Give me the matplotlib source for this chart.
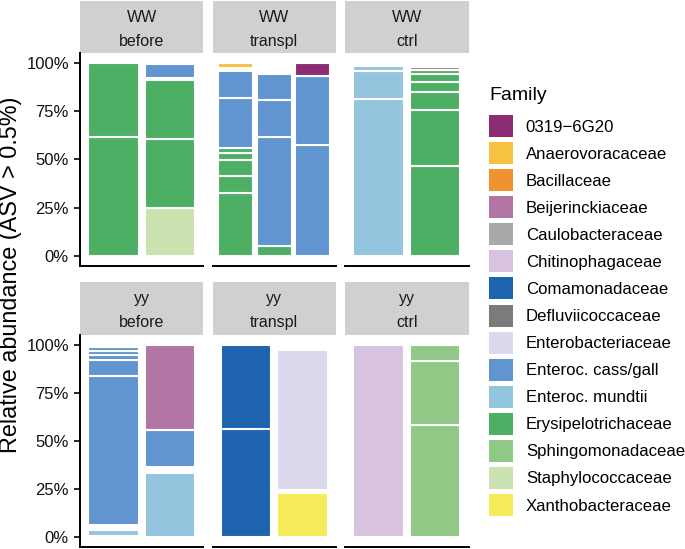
import numpy as np
import matplotlib.pyplot as plt
from matplotlib.patches import Patch

plt.rcParams['font.family'] = ['Liberation Sans', 'DejaVu Sans']

W, H = 685, 549

families = ['0319\u22126G20', 'Anaerovoracaceae', 'Bacillaceae', 'Beijerinckiaceae',
            'Caulobacteraceae', 'Chitinophagaceae', 'Comamonadaceae', 'Defluviicoccaceae',
            'Enterobacteriaceae', 'Enteroc. cass/gall', 'Enteroc. mundtii',
            'Erysipelotrichaceae', 'Sphingomonadaceae', 'Staphylococcaceae', 'Xanthobacteraceae']
colors = ['#8C2D73', '#F5C242', '#F0922F', '#B176A4', '#A9A9A9', '#D7C2DF', '#1D63AD',
          '#7B7B7B', '#DCD8ED', '#6195CF', '#93C5DF', '#4DAF64', '#91C886', '#CCE2B1', '#F6EB59']

X0319, ANAERO, BEIJ, CHITINO, COMA = families[0], families[1], families[3], families[5], families[6]
ENTERO, CASS, MUND, ERY, SPHINGO = families[8], families[9], families[10], families[11], families[12]
STAPH, XANTHO = families[13], families[14]

# stacks from bottom to top, None = small ASVs drawn blank
ww_before_a_fam = [ERY, ERY]
ww_before_a_pct = [61.7, 38.0]
ww_before_b_fam = [STAPH, ERY, ERY, None, CASS]
ww_before_b_pct = [25.1, 35.5, 30.5, 0.8, 7.6]

ww_transpl_a_fam = [ERY, ERY, ERY, ERY, ERY, CASS, CASS, None, ANAERO]
ww_transpl_a_pct = [32.9, 8.5, 8.3, 3.4, 2.8, 25.8, 14.0, 1.5, 2.4]
ww_transpl_b_fam = [ERY, CASS, CASS, CASS]
ww_transpl_b_pct = [5.1, 56.3, 19.1, 13.4]
ww_transpl_c_fam = [CASS, CASS, X0319]
ww_transpl_c_pct = [57.3, 36.0, 6.4]

ww_ctrl_a_fam = [MUND, MUND, MUND, MUND]
ww_ctrl_a_pct = [81.5, 14.4, 2.2, 1.4]
ww_ctrl_b_fam = [ERY, ERY, ERY, ERY, ERY, ERY, BEIJ]
ww_ctrl_b_pct = [46.4, 29.2, 9.3, 5.1, 4.2, 2.1, 1.5]

yy_before_a_fam = [STAPH, MUND, None, CASS, CASS, CASS, CASS, CASS, CASS]
yy_before_a_pct = [0.9, 2.9, 2.8, 76.9, 8.4, 2.5, 2.3, 2.3, 1.0]
yy_before_b_fam = [MUND, None, CASS, BEIJ]
yy_before_b_pct = [33.4, 3.2, 19.0, 44.1]

yy_transpl_a_fam = [COMA, COMA]
yy_transpl_a_pct = [56.3, 43.4]
yy_transpl_b_fam = [XANTHO, None, ENTERO]
yy_transpl_b_pct = [23.2, 1.4, 72.5]

yy_ctrl_a_fam = [CHITINO]
yy_ctrl_a_pct = [99.7]
yy_ctrl_b_fam = [SPHINGO, SPHINGO, SPHINGO]
yy_ctrl_b_pct = [58.1, 33.2, 8.4]

row_labels = ['WW', 'yy']
col_labels = ['before', 'transpl', 'ctrl']
yticks = [0, 25, 50, 75, 100]
ytick_labels = ['0%', '25%', '50%', '75%', '100%']

samples = {
  ('WW', 'before'): [(ww_before_a_fam, ww_before_a_pct), (ww_before_b_fam, ww_before_b_pct)],
  ('WW', 'transpl'): [(ww_transpl_a_fam, ww_transpl_a_pct), (ww_transpl_b_fam, ww_transpl_b_pct),
                      (ww_transpl_c_fam, ww_transpl_c_pct)],
  ('WW', 'ctrl'): [(ww_ctrl_a_fam, ww_ctrl_a_pct), (ww_ctrl_b_fam, ww_ctrl_b_pct)],
  ('yy', 'before'): [(yy_before_a_fam, yy_before_a_pct), (yy_before_b_fam, yy_before_b_pct)],
  ('yy', 'transpl'): [(yy_transpl_a_fam, yy_transpl_a_pct), (yy_transpl_b_fam, yy_transpl_b_pct)],
  ('yy', 'ctrl'): [(yy_ctrl_a_fam, yy_ctrl_a_pct), (yy_ctrl_b_fam, yy_ctrl_b_pct)],
}
col_of = dict(zip(families, colors))

def px_axes(fig, x0, y0, x1, y1):
  return fig.add_axes([x0/W, 1-y1/H, (x1-x0)/W, (y1-y0)/H])

def draw_panel(ax, bars):
  for i, (fam, pct) in enumerate(bars):
    bottom = 0.0
    for f, p in zip(fam, pct):
      if f is not None:
        ax.bar(i+1, p, width=0.9, bottom=bottom, color=col_of[f], edgecolor='white', linewidth=1.5)
      bottom += p
  ax.set_xlim(0.4, len(bars)+0.6)
  ax.set_ylim(-5, 105)
  ax.set_xticks([])
  for s in ['top', 'right']:
    ax.spines[s].set_visible(False)
  ax.spines['bottom'].set_linewidth(1.4)
  ax.spines['left'].set_linewidth(1.4)

def draw_strip(fig, x0, y0, x1, y1, top, bottom):
  sa = px_axes(fig, x0, y0, x1, y1)
  sa.set_facecolor('#D0D0D0')
  sa.set_xticks([]); sa.set_yticks([])
  for s in sa.spines.values():
    s.set_visible(False)
  sa.text(0.5, 1-21/(y1-y0), top, ha='center', va='baseline', fontsize=11.5, color='#1a1a1a', transform=sa.transAxes)
  sa.text(0.5, 1-45/(y1-y0), bottom, ha='center', va='baseline', fontsize=11.5, color='#1a1a1a', transform=sa.transAxes)

fig = plt.figure(figsize=(W/100, H/100), dpi=100)
col_x = [(80, 203.5), (212.5, 336), (345, 468.5)]
row_y = [(1, 53, 266), (282, 335, 547)]

for r, rl in enumerate(row_labels):
  for c, cl in enumerate(col_labels):
    x0, x1 = col_x[c]
    s0, p0, p1 = row_y[r]
    draw_strip(fig, x0, s0, x1, p0, rl, cl)
    ax = px_axes(fig, x0, p0, x1, p1)
    draw_panel(ax, samples[(rl, cl)])
    if c == 0:
      ax.set_yticks(yticks)
      ax.set_yticklabels(ytick_labels, fontsize=12, color='#111111')
      ax.tick_params(axis='y', length=4, width=1.2, pad=4)
    else:
      ax.set_yticks([])
      ax.spines['left'].set_visible(False)

fig.text(11/W, 1-275/H, 'Relative abundance (ASV > 0.5%)', rotation=90, ha='center', va='center', fontsize=16.8)

fig.text(489/W, 1-100/H, 'Family', ha='left', va='baseline', fontsize=14)
handles = [Patch(facecolor=c, edgecolor='none') for c in colors]
leg = fig.legend(handles, families, loc='upper left', bbox_to_anchor=(489/W, 1-115/H), frameon=False,
                 fontsize=12.1, handlelength=1.43, handleheight=1.64,
                 labelspacing=0.30, handletextpad=0.76, borderpad=0, borderaxespad=0)

fig.savefig('out.png', dpi=100)
